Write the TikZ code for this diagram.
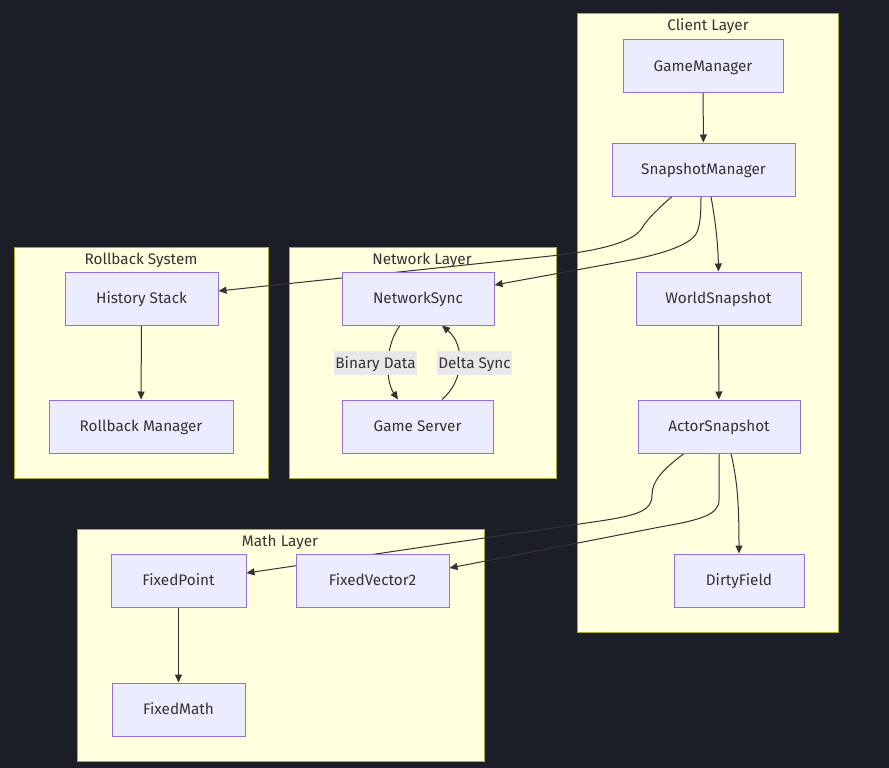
\documentclass[tikz,border=0pt]{standalone}
\usepackage{fontspec}
\setmainfont{Fira Sans}
\usetikzlibrary{arrows.meta}
\definecolor{bgc}{HTML}{1B1E27}
\definecolor{clfill}{HTML}{FFFFDE}
\definecolor{clline}{HTML}{AAAA33}
\definecolor{nfill}{HTML}{ECECFF}
\definecolor{nline}{HTML}{9370DB}
\definecolor{txt}{HTML}{333333}
\definecolor{lblbg}{HTML}{E8E8E8}
\pgfdeclarelayer{bglayer}
\pgfdeclarelayer{edgelayer}
\pgfsetlayers{bglayer,edgelayer,main}
\begin{document}
\begin{tikzpicture}[x=1pt,y=-1pt,
  tfont/.style={font=\fontsize{15.3}{18}\selectfont, text height=1em, text depth=0pt},
  box/.style={tfont, draw=nline, fill=nfill, line width=1pt, minimum height=53pt, inner sep=0pt, text=txt},
  cluster/.style={draw=clline, fill=clfill, line width=1pt},
  ctitle/.style={tfont, text=txt, inner sep=0pt},
  edge/.style={draw=txt, line width=1pt, -{Triangle[length=8pt,width=7pt]}},
  elabel/.style={tfont, fill=lblbg, text=txt, inner sep=0pt, minimum height=24pt}]
\useasboundingbox (0,0) rectangle (889,768);

% nodes
\node[box, minimum width=160pt] (gm) at (703,66) {GameManager};
\node[box, minimum width=183pt] (sm) at (703.5,169.5) {SnapshotManager};
\node[box, minimum width=165pt] (ws) at (718.5,298.5) {WorldSnapshot};
\node[box, minimum width=162pt] (as) at (719,426.5) {ActorSnapshot};
\node[box, minimum width=130pt] (df) at (739,580.5) {DirtyField};
\node[box, minimum width=153pt] (hs) at (141.5,298.5) {History Stack};
\node[box, minimum width=184pt] (rm) at (141,426.5) {Rollback Manager};
\node[box, minimum width=152pt] (ns) at (418,298.5) {NetworkSync};
\node[box, minimum width=151pt] (gs) at (417.5,426.5) {Game Server};
\node[box, minimum width=135pt] (fp) at (178.5,580.5) {FixedPoint};
\node[box, minimum width=153pt] (fv) at (372.5,580.5) {FixedVector2};
\node[box, minimum width=133pt] (fm) at (178.5,709.5) {FixedMath};

% edge labels
\node[elabel, minimum width=83pt] (lbd) at (375.5,363) {Binary Data};
\node[elabel, minimum width=75pt] (lds) at (474.5,363) {Delta Sync};

\begin{pgfonlayer}{bglayer}
  \fill[bgc] (0,0) rectangle (889,768);
  \draw[cluster] (577,14) rectangle (838,632);
  \draw[cluster] (14,247) rectangle (268,478);
  \draw[cluster] (289,247) rectangle (556,478);
  \draw[cluster] (77,529) rectangle (484,761);
  \node[ctitle] (tcl) at (708,26) {Client Layer};
  \node[ctitle] (trb) at (141,259) {Rollback System};
  \node[ctitle] (tnl) at (422,259) {Network Layer};
  \node[ctitle] (tml) at (280,541) {Math Layer};
\end{pgfonlayer}

\begin{pgfonlayer}{edgelayer}
  \draw[edge] (gm) -- (sm);
  \draw[edge] ([xshift=-31.5pt]sm.south) .. controls (660,207) and (648,218) .. (642,228)
     .. controls (634,242) and (600,250) .. (560,255) -- ([yshift=7.5pt]hs.east);
  \draw[edge] ([xshift=-2.5pt]sm.south) .. controls (701,215) and (700,225) .. (697,232)
     .. controls (692,245) and (660,255) .. (620,262) -- ([yshift=13.5pt]ns.east);
  \draw[edge] ([xshift=7.5pt]sm.south) .. controls (716,225) and (718,245) .. (ws.north);
  \draw[edge] (ws) -- (as);
  \draw[edge] ([xshift=-35pt]as.south) .. controls (665,468) and (652,480) .. (652,495)
     .. controls (652,510) and (640,515) .. (600,521) -- ([yshift=7.5pt]fp.east);
  \draw[edge] (as.south) -- (719,500) .. controls (719,515) and (700,520) .. (660,527)
     -- ([yshift=12.5pt]fv.east);
  \draw[edge] ([xshift=12pt]as.south) .. controls (737,480) and (739,500) .. (df.north);
  \draw[edge] (hs) -- (rm);
  \draw[edge] (fp) -- (fm);
  \draw[edge] ([xshift=-18pt]ns.south) .. controls (385,345) and (385,380) .. ([xshift=-19.5pt]gs.north);
  \draw[edge] ([xshift=24.5pt]gs.north) .. controls (465,380) and (465,345) .. ([xshift=24pt]ns.south);
\end{pgfonlayer}
\end{tikzpicture}
\end{document}
